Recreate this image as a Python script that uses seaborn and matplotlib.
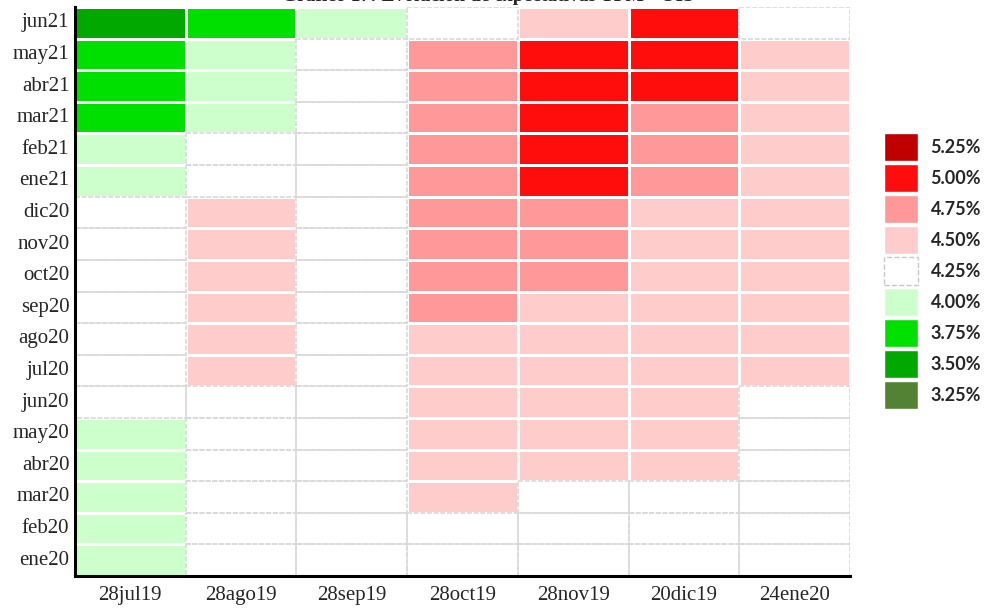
import numpy as np
import pandas as pd
import matplotlib
matplotlib.use("Agg")
import matplotlib.pyplot as plt
from matplotlib.colors import ListedColormap, BoundaryNorm
from matplotlib.patches import Patch, Rectangle
import seaborn as sns

sns.set_style("white")

# survey dates (columns) and contract months (rows, top to bottom)
fechas = ["28jul19", "28ago19", "28sep19", "28oct19", "28nov19", "20dic19", "24ene20"]
meses = ["jun21", "may21", "abr21", "mar21", "feb21", "ene21", "dic20", "nov20", "oct20",
         "sep20", "ago20", "jul20", "jun20", "may20", "abr20", "mar20", "feb20", "ene20"]

jun21 = [3.50, 3.75, 4.00, 4.25, 4.50, 5.00, 4.25]
may21 = [3.75, 4.00, 4.25, 4.75, 5.00, 5.00, 4.50]
abr21 = [3.75, 4.00, 4.25, 4.75, 5.00, 5.00, 4.50]
mar21 = [3.75, 4.00, 4.25, 4.75, 5.00, 4.75, 4.50]
feb21 = [4.00, 4.25, 4.25, 4.75, 5.00, 4.75, 4.50]
ene21 = [4.00, 4.25, 4.25, 4.75, 5.00, 4.75, 4.50]
dic20 = [4.25, 4.50, 4.25, 4.75, 4.75, 4.50, 4.50]
nov20 = [4.25, 4.50, 4.25, 4.75, 4.75, 4.50, 4.50]
oct20 = [4.25, 4.50, 4.25, 4.75, 4.75, 4.50, 4.50]
sep20 = [4.25, 4.50, 4.25, 4.75, 4.50, 4.50, 4.50]
ago20 = [4.25, 4.50, 4.25, 4.50, 4.50, 4.50, 4.50]
jul20 = [4.25, 4.50, 4.25, 4.50, 4.50, 4.50, 4.50]
jun20 = [4.25, 4.25, 4.25, 4.50, 4.50, 4.50, 4.25]
may20 = [4.00, 4.25, 4.25, 4.50, 4.50, 4.50, 4.25]
abr20 = [4.00, 4.25, 4.25, 4.50, 4.50, 4.50, 4.25]
mar20 = [4.00, 4.25, 4.25, 4.50, 4.25, 4.25, 4.25]
feb20 = [4.00, 4.25, 4.25, 4.25, 4.25, 4.25, 4.25]
ene20 = [4.00, 4.25, 4.25, 4.25, 4.25, 4.25, 4.25]

niveles = [3.25, 3.50, 3.75, 4.00, 4.25, 4.50, 4.75, 5.00, 5.25]
colores = ["#548235", "#00A800", "#00E000", "#CCFFCC", "#FFFFFF",
           "#FFCCCC", "#FF9999", "#FF0D0D", "#C00000"]

df = pd.DataFrame([jun21, may21, abr21, mar21, feb21, ene21, dic20, nov20, oct20,
                   sep20, ago20, jul20, jun20, may20, abr20, mar20, feb20, ene20],
                  index=meses, columns=fechas)

cmap = ListedColormap(colores)
bounds = [n - 0.125 for n in niveles] + [niveles[-1] + 0.125]
norm = BoundaryNorm(bounds, cmap.N)

fig = plt.figure(figsize=(9.85, 6.08), dpi=100)
ax = fig.add_axes([0.0761, 0.0526, 0.7869, 0.9359])

sns.heatmap(df, ax=ax, cmap=cmap, norm=norm, cbar=False,
            linewidths=2, linecolor="white")

# white (4.25) cells get a dashed grey outline
for i in range(df.shape[0]):
    for j in range(df.shape[1]):
        if df.iat[i, j] == 4.25:
            ax.add_patch(Rectangle((j, i), 1, 1, fill=False, edgecolor="#d9d9d9",
                                   linestyle=(0, (3, 1)), lw=1.2, zorder=3))

for s in ["left", "bottom"]:
    ax.spines[s].set_visible(True)
    ax.spines[s].set_color("black")
    ax.spines[s].set_linewidth(2.2)
    ax.spines[s].set_zorder(5)

ax.tick_params(length=0)
ax.set_xticklabels(fechas, rotation=0, fontsize=15, family="Liberation Serif")
ax.set_yticklabels(meses, rotation=0, fontsize=15, family="Liberation Serif")
ax.tick_params(axis="x", pad=7)
ax.tick_params(axis="y", pad=4)
ax.set_xlabel("")
ax.set_ylabel("")

# title (cropped at the top edge like the original)
fig.text(0.495, 1 - 1 / 608, "Gráfico 17: Evolución de expectativas TPM - OIS",
         ha="center", va="baseline", fontsize=14, fontweight="bold", family="Liberation Serif")

# legend
handles = []
for n, c in zip(niveles[::-1], colores[::-1]):
    if c == "#FFFFFF":
        handles.append(Patch(facecolor=c, edgecolor="#c8c8c8", linestyle="--", lw=1))
    else:
        handles.append(Patch(facecolor=c, edgecolor="white", lw=1))
labels = ["%.2f%%" % n for n in niveles[::-1]]
fig.legend(handles, labels, loc="center left", bbox_to_anchor=(0.897, 0.554),
           frameon=False, handlelength=1.9, handleheight=2.05, labelspacing=0.14,
           handletextpad=0.7, borderpad=0, borderaxespad=0,
           prop={"family": "Lato", "weight": "bold", "size": 13})

fig.savefig("out.png", dpi=100)
